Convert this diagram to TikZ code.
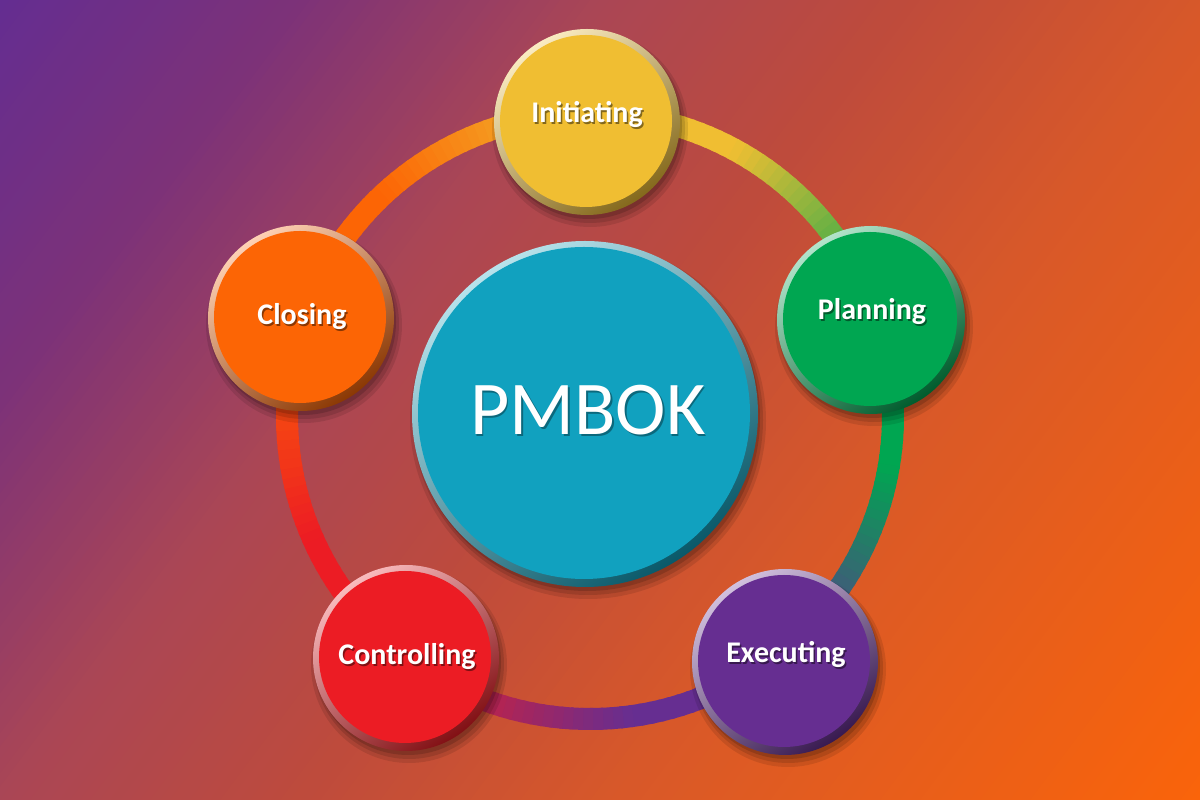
\documentclass[tikz,border=0pt]{standalone}
\usepackage{fontspec}
\setmainfont{Carlito}
\usetikzlibrary{calc}
\definecolor{bgA}{RGB}{100,45,145}
\definecolor{bgB}{RGB}{125,50,120}
\definecolor{bgC}{RGB}{170,70,85}
\definecolor{bgD}{RGB}{190,75,60}
\definecolor{bgE}{RGB}{215,88,42}
\definecolor{bgF}{RGB}{250,100,10}
\definecolor{cInit}{RGB}{240,190,50}
\definecolor{cPlan}{RGB}{0,166,81}
\definecolor{cExec}{RGB}{102,46,145}
\definecolor{cCtrl}{RGB}{236,28,36}
\definecolor{cClos}{RGB}{252,101,5}
\definecolor{cCore}{RGB}{17,161,191}
\tikzset{
  lbl/.style={font=\fontsize{30}{36}\selectfont\bfseries, text=white, anchor=base, inner sep=0pt},
  lblsh/.style={font=\fontsize{30}{36}\selectfont\bfseries, text=black, text opacity=0.45, anchor=base, inner sep=0pt},
  corelbl/.style={font=\fontsize{76}{80}\selectfont, text=white, anchor=base, inner sep=0pt},
  coresh/.style={font=\fontsize{76}{80}\selectfont, text=black, text opacity=0.35, anchor=base, inner sep=0pt},
  face/.style={circle, inner sep=0pt, draw=none},
}
\newcommand\pmbutton[6]{% name, x, y, radius, color, rim
  \fill[black, opacity=0.10] (#2+3,#3-7) circle[radius=#4+5pt];
  \fill[black, opacity=0.12] (#2+3,#3-6) circle[radius=#4+2pt];
  \fill[black, opacity=0.15] (#2+2,#3-4) circle[radius=#4];
  \shade[top color=#5!30!white, bottom color=#5!55!black, shading angle=35] (#2,#3) circle[radius=#4];
  \node[face, fill=#5, minimum size=2*#4-#6] (#1) at (#2-1,#3+1) {};
}
\begin{document}
\begin{tikzpicture}[x=1pt,y=1pt]
\useasboundingbox (0,0) rectangle (1200,800);
% background
\begin{scope}
\clip (0,0) rectangle (1200,800);
\foreach \ta/\tb/\ca/\cb in {0/300/bgA/bgB, 300/600/bgB/bgC, 600/900/bgC/bgD, 900/1200/bgD/bgE, 1200/1800/bgE/bgF}{
  \pgfmathtruncatemacro{\lastS}{\tb-\ta-10}
  \foreach \s in {0,10,...,\lastS}{
    \pgfmathtruncatemacro{\pc}{(\s+5)/(\tb-\ta)*100}
    \pgfmathsetmacro{\ua}{\ta+\s}
    \pgfmathsetmacro{\ub}{\ta+\s+11}
    \fill[\cb!\pc!\ca] (\ua-600,0) -- (\ub-600,0) -- (\ub,800) -- (\ua,800) -- cycle;
  }
}
\end{scope}
% ring
\coordinate (rc) at (590,384);
\foreach \A/\B/\ca/\cb in {90.6/18.9/cInit/cPlan, 18.9/-51.6/cPlan/cExec, -51.6/-127.2/cExec/cCtrl, -127.2/-198.7/cCtrl/cClos, -198.7/-269.4/cClos/cInit}{
  \foreach \k in {0,...,39}{
    \pgfmathsetmacro{\angA}{\A+(\B-\A)*\k/40}
    \pgfmathsetmacro{\angB}{\A+(\B-\A)*(\k+1.3)/40}
    \pgfmathtruncatemacro{\pc}{max(0,min(100,((\k+0.5)/40-0.4)/0.6*100))}
    \draw[line width=22pt, draw=\cb!\pc!\ca] ($(rc)+(\angA:303pt)$) arc[start angle=\angA, end angle=\angB, radius=303pt];
  }
}
% centre
\pmbutton{core}{585}{386}{173pt}{cCore}{14pt}
\node[coresh] (coreS) at (589.5,363.5) {PMBOK};
\node[corelbl] (coreL) at (588,365) {PMBOK};
% phases
\pmbutton{init}{587}{678}{93pt}{cInit}{14pt}
\pmbutton{plan}{871}{480}{94pt}{cPlan}{14pt}
\pmbutton{exec}{785}{138}{93pt}{cExec}{14pt}
\pmbutton{ctrl}{406}{142}{93pt}{cCtrl}{14pt}
\pmbutton{clos}{301}{482}{93pt}{cClos}{14pt}
\node[lblsh] (initS) at (588.5,675.5) {Initiating};
\node[lbl] (initL) at (587,677) {Initiating};
\node[lblsh] (planS) at (873.5,478.5) {Planning};
\node[lbl] (planL) at (872,480) {Planning};
\node[lblsh] (execS) at (787.5,135.5) {Executing};
\node[lbl] (execL) at (786,137) {Executing};
\node[lblsh] (ctrlS) at (408.5,133.5) {Controlling};
\node[lbl] (ctrlL) at (407,135) {Controlling};
\node[lblsh] (closS) at (303.5,473.5) {Closing};
\node[lbl] (closL) at (302,475) {Closing};
\end{tikzpicture}
\end{document}
